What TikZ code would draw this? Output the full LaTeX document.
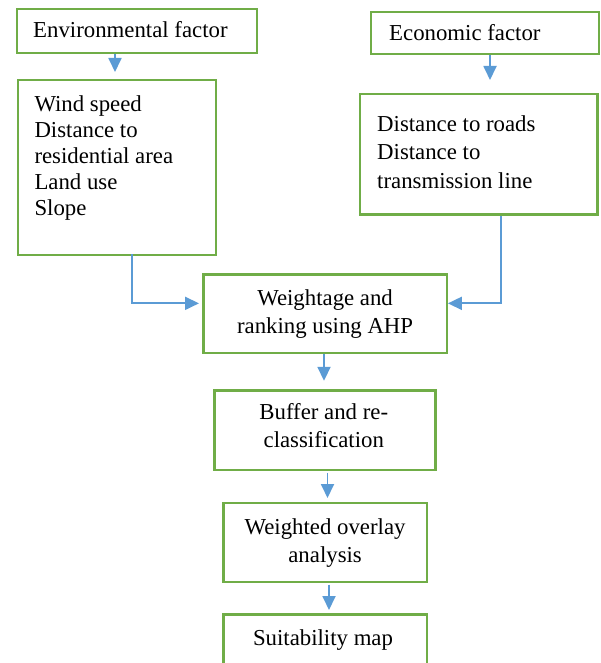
\documentclass[tikz,border=0pt]{standalone}
\usepackage{fontspec}
\setmainfont{Liberation Serif}
\usetikzlibrary{arrows.meta,calc}
\definecolor{boxgreen}{HTML}{70AD47}
\definecolor{linkblue}{HTML}{5B9BD5}
\begin{document}
\begin{tikzpicture}[x=1pt,y=-1pt,
  box/.style={draw=boxgreen,line width=2.2pt,inner sep=0pt,anchor=north west,
    font=\fontsize{22.8}{28}\selectfont,align=center},
  txt/.style={font=\fontsize{22.8}{26}\selectfont,inner sep=0pt,align=left},
  conn/.style={draw=linkblue,line width=1.8pt,-{Triangle[width=13pt,length=14pt]}},
]
\useasboundingbox (0,0) rectangle (600,663);
\clip (0,0) rectangle (600,663);
\fill[white] (0,0) rectangle (600,663);

% left column
\node[box,minimum width=240.3pt,minimum height=44pt] (envf) at (15.7,8.3) {};
\node[txt,anchor=base west] (envft) at (33,38) {Environmental factor};
\node[box,minimum width=198.3pt,minimum height=175pt] (envl) at (16.7,79) {};
\node[txt,anchor=base west] (envlt) at (34.3,215) {Wind speed\\Distance to\\residential area\\Land use\\Slope};

% right column
\node[box,minimum width=227.7pt,minimum height=42.6pt] (ecof) at (370,10.7) {};
\node[txt,anchor=base west] (ecoft) at (389,41) {Economic factor};
\node[box,minimum width=237.3pt,minimum height=120.6pt] (ecol) at (359,92.7) {};
\node[txt,anchor=base west,font=\fontsize{22.8}{29}\selectfont] (ecolt) at (377,189) {Distance to roads\\Distance to\\transmission line};

% central chain
\node[box,minimum width=243.4pt,minimum height=78.7pt] (ahp) at (202.3,273.3) {Weightage and\\ranking using AHP};
\node[box,minimum width=221pt,minimum height=79.4pt] (buf) at (213.3,389.3) {};
\node[txt,align=center,font=\fontsize{22.8}{28}\selectfont] (buft) at (323.8,426) {Buffer and re-\\classification};
\node[box,minimum width=203.4pt,minimum height=79pt] (ovl) at (222.3,502) {Weighted overlay\\analysis};
\node[box,minimum width=203.4pt,minimum height=70pt] (suit) at (222.3,613.3) {};
\node[txt,anchor=base] (suitt) at (323,645) {Suitability map};

% connectors
\draw[conn] ($(envf.south west)+(99.3,0)$) -- ($(envl.north west)+(98.3,-7)$);
\draw[conn] ($(ecof.south west)+(120,0)$) -- ($(ecol.north west)+(131,-12.7)$);
\draw[conn] ($(envl.south west)+(115,-2)$) |- ($(ahp.west)+(-3.3,-10.4)$);
\draw[conn] ($(ecol.south west)+(141.7,0)$) |- ($(ahp.east)+(0,-10.4)$);
\draw[conn] ($(ahp.south west)+(121.7,0)$) -- ($(buf.north west)+(110.7,-8.5)$);
\draw[conn] ($(buf.south west)+(114.2,2)$) -- ($(ovl.north west)+(105.2,-4)$);
\draw[conn] ($(ovl.south west)+(106.7,1.5)$) -- ($(suit.north west)+(106.7,-3.3)$);
\end{tikzpicture}
\end{document}
